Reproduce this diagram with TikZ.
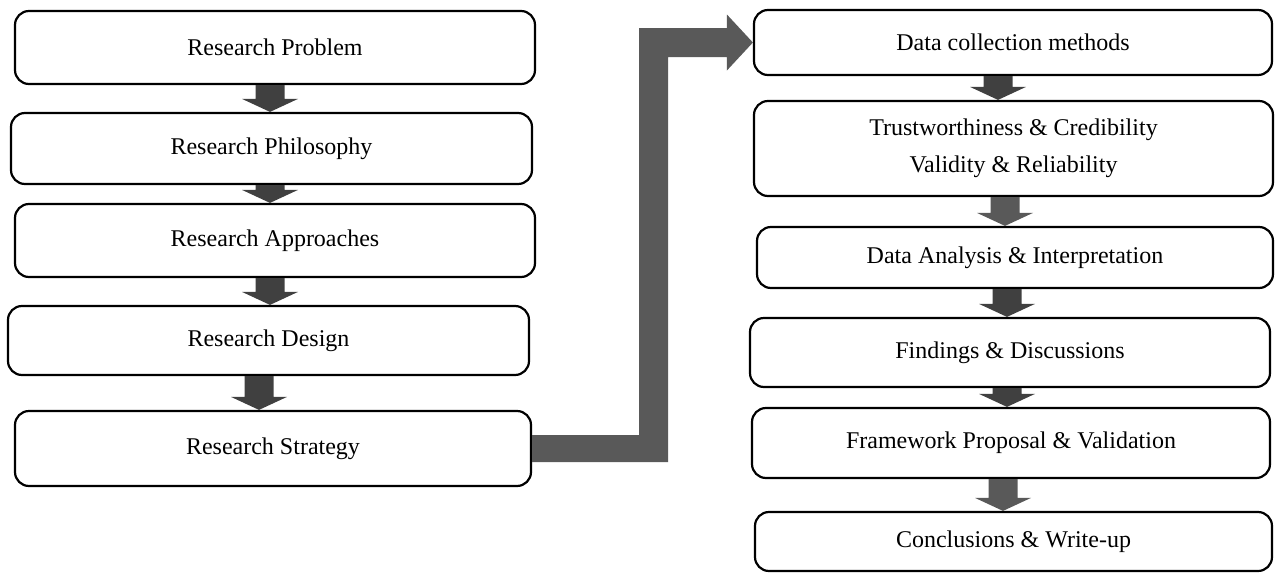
\documentclass[tikz,border=0pt]{standalone}
\usepackage{fontspec}
\setmainfont{Liberation Serif}
\usetikzlibrary{calc}

\definecolor{arrowdark}{HTML}{404040}
\definecolor{arrowgray}{HTML}{595959}

\tikzset{
  stepbox/.style={draw=black, line width=2.2pt, rounded corners=14pt,
    fill=white, align=center, inner sep=0pt,
    font=\fontsize{24}{37}\selectfont},
  darkarrow/.style={fill=arrowdark},
  grayarrow/.style={fill=arrowgray}
}

% block arrow pointing down from node #1 to node #2, centred on x = #3
\newcommand\blockdown[4]{%
  \fill[#4] let \p1=(#1.south), \p2=(#2.north) in
    ({(#3-14.5)*1pt},\y1) -- ({(#3+14.5)*1pt},\y1)
    -- ({(#3+14.5)*1pt},{\y2+13pt}) -- ({(#3+28)*1pt},{\y2+13pt})
    -- ({#3*1pt},\y2)
    -- ({(#3-28)*1pt},{\y2+13pt}) -- ({(#3-14.5)*1pt},{\y2+13pt})
    -- cycle;}

\begin{document}
\begin{tikzpicture}[x=1pt,y=-1pt]
  \useasboundingbox (0,0) rectangle (1275,573);

  % left column
  \node[stepbox, minimum width=520pt, minimum height=73pt] (b1) at (275,47.5) {Research Problem};
  \node[stepbox, minimum width=521pt, minimum height=71pt] (b2) at (271.5,148.5) {Research Philosophy};
  \node[stepbox, minimum width=520pt, minimum height=73pt] (b3) at (275,240.5) {Research Approaches};
  \node[stepbox, minimum width=521pt, minimum height=69pt] (b4) at (268.5,340.5) {Research Design};
  \node[stepbox, minimum width=516pt, minimum height=75pt] (b5) at (273,448.5) {Research Strategy};

  % right column
  \node[stepbox, minimum width=518pt, minimum height=65pt] (r1) at (1013,42.5) {Data collection methods};
  \node[stepbox, minimum width=519pt, minimum height=95pt] (r2) at (1013.5,148.5) {Trustworthiness \& Credibility\\Validity \& Reliability};
  \node[stepbox, minimum width=516pt, minimum height=61pt] (r3) at (1015,257.5) {Data Analysis \& Interpretation};
  \node[stepbox, minimum width=520pt, minimum height=69pt] (r4) at (1010,352.5) {Findings \& Discussions};
  \node[stepbox, minimum width=518pt, minimum height=70pt] (r5) at (1011,443) {Framework Proposal \& Validation};
  \node[stepbox, minimum width=517pt, minimum height=59pt] (r6) at (1013.5,541.5) {Conclusions \& Write-up};

  % down arrows, left column
  \blockdown{b1}{b2}{270}{darkarrow}
  \blockdown{b2}{b3}{270}{darkarrow}
  \blockdown{b3}{b4}{270}{darkarrow}
  \blockdown{b4}{b5}{259}{darkarrow}

  % down arrows, right column
  \blockdown{r1}{r2}{998}{darkarrow}
  \blockdown{r2}{r3}{1005}{grayarrow}
  \blockdown{r3}{r4}{1007}{darkarrow}
  \blockdown{r4}{r5}{1007}{darkarrow}
  \blockdown{r5}{r6}{1003}{grayarrow}

  % bent arrow from the strategy box up to data collection
  \fill[grayarrow] let \p1=(b5.east), \p2=(r1.west) in
    (\x1,{\y1+13.5pt}) -- (639pt,{\y1+13.5pt}) -- (639pt,{\y2+14.5pt})
    -- ({\x2-26pt},{\y2+14.5pt}) -- ({\x2-26pt},{\y2+28pt})
    -- (\x2,\y2)
    -- ({\x2-26pt},{\y2-28pt}) -- ({\x2-26pt},{\y2-14.5pt})
    -- (668pt,{\y2-14.5pt}) -- (668pt,{\y1-13.5pt})
    -- (\x1,{\y1-13.5pt}) -- cycle;
\end{tikzpicture}
\end{document}
